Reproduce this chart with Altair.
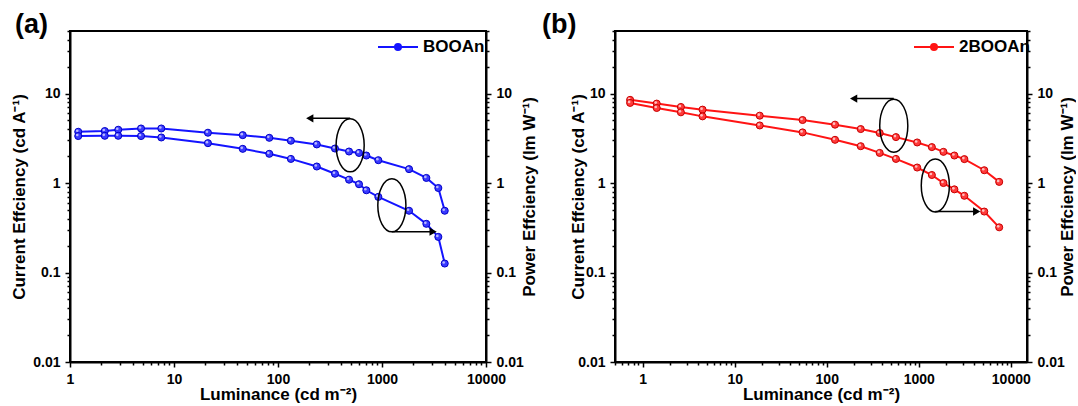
import altair as alt
import pandas as pd

FONT = "Liberation Sans"

# ---------- Panel (a): BOOAn ----------
a_name = "BOOAn"
a_lum = [1.20, 2.16, 2.91, 4.82, 7.55, 21.2, 45.8, 82.5, 133, 236, 353, 482, 601, 707, 922, 1820, 2670, 3480, 4010]
a_ce = [3.74, 3.81, 3.94, 4.07, 4.07, 3.65, 3.43, 3.20, 2.97, 2.70, 2.43, 2.25, 2.17, 2.03, 1.80, 1.43, 1.14, 0.88, 0.49]
a_pe = [3.35, 3.37, 3.37, 3.35, 3.23, 2.79, 2.41, 2.12, 1.86, 1.53, 1.27, 1.09, 0.97, 0.83, 0.70, 0.49, 0.35, 0.25, 0.126]
a_ell_x = [494, 1244]
a_ell_y = [2.64, 0.563]
a_arr_x0 = [494, 1244]
a_arr_x1 = [202, 3100]
a_arr_y = [5.28, 0.286]
a_arr_dir = ["triangle-left", "triangle-right"]

# ---------- Panel (b): 2BOOAn ----------
b_name = "2BOOAn"
b_lum = [0.73, 1.42, 2.60, 4.47, 18.7, 54.6, 123, 234, 376, 565, 961, 1387, 1854, 2438, 3130, 5150, 7480]
b_ce = [8.5, 7.72, 7.08, 6.61, 5.66, 5.06, 4.49, 4.01, 3.62, 3.26, 2.84, 2.52, 2.23, 2.03, 1.85, 1.39, 1.03]
b_pe = [7.86, 6.90, 6.17, 5.56, 4.40, 3.68, 3.04, 2.58, 2.17, 1.86, 1.49, 1.23, 1.00, 0.85, 0.72, 0.48, 0.32]
b_ell_x = [535, 1513]
b_ell_y = [4.37, 0.94]
b_arr_x0 = [535, 1513]
b_arr_x1 = [196, 4260]
b_arr_y = [8.79, 0.48]
b_arr_dir = ["triangle-left", "triangle-right"]

# ---------- axis text ----------
x_title = "Luminance (cd m\u207b\u00b2)"
yl_title = "Current Effciency (cd A\u207b\u00b9)"
yr_title = "Power Effciency (lm W\u207b\u00b9)"
y_domain = [0.01, 50]

H = 331
ELLIPSE = ("M 0.53,0 C 0.53,0.5523 0.2927,1 0,1 C -0.2927,1 -0.53,0.5523 -0.53,0 "
           "C -0.53,-0.5523 -0.2927,-1 0,-1 C 0.2927,-1 0.53,-0.5523 0.53,0 Z")
LEG_PATH = ("M -1,0 L 1,0 M 0.15,0 C 0.15,0.083 0.083,0.15 0,0.15 C -0.083,0.15 -0.15,0.083 -0.15,0 "
            "C -0.15,-0.083 -0.083,-0.15 0,-0.15 C 0.083,-0.15 0.15,-0.083 0.15,0 Z")

MAJOR = "abs(log(datum.value)/LN10 - round(log(datum.value)/LN10)) < 0.001"


def log_ticks(lo, hi):
    out = []
    for e in range(-3, 6):
        for k in range(1, 10):
            v = round(k * 10 ** e, 6)
            if lo - 1e-9 <= v <= hi + 1e-9:
                out.append(v)
    return out


def axis(orient, ticks, title, **kw):
    return alt.Axis(
        orient=orient, values=ticks, title=title,
        labelExpr=f"({MAJOR}) ? format(datum.value, '~g') : ''",
        tickSize={"condition": {"test": MAJOR, "value": 5}, "value": 3},
        labelFont=FONT, labelFontSize=14, labelFontWeight="bold", labelColor="black",
        labelPadding=5, labelFlush=False, labelOverlap=False,
        titleFont=FONT, titleFontSize=17, titleFontWeight="bold", titleColor="black",
        domainColor="black", domainWidth=2, tickColor="black", tickWidth=1.5,
        grid=False, **kw)


def panel(name, lum, ce, pe, line_c, fill_c, edge_c, hi_c, xdom, ell_x, ell_y,
          arr_x0, arr_x1, arr_y, arr_dir, tag, tag_dx, width, leg_x, ylt_x, yrt_x):
    xt = log_ticks(*xdom)
    yt = log_ticks(*y_domain)
    xscale = alt.Scale(type="log", domain=xdom, nice=False)
    yscale = alt.Scale(type="log", domain=y_domain, nice=False)
    xax = axis("bottom", xt, x_title, titleX=width / 2, titleY=37.5,
               titleAlign="center", titleBaseline="alphabetic")
    yl = axis("left", yt, yl_title, titleX=ylt_x, titleY=H / 2, titleAngle=270,
              titleAlign="center", titleBaseline="alphabetic")
    yr = axis("right", yt, yr_title, titleX=yrt_x, titleY=H / 2, titleAngle=270,
              titleAlign="center", titleBaseline="alphabetic")

    def X(f):
        return alt.X(f, type="quantitative", scale=xscale, axis=xax)

    def Y(f, ax=None):
        return alt.Y(f, type="quantitative", scale=yscale, axis=ax)

    leg = alt.Legend(title=None, orient="none", legendX=leg_x, legendY=-5,
                     symbolType=LEG_PATH, symbolSize=1600, symbolStrokeWidth=2,
                     symbolFillColor=line_c, symbolStrokeColor=line_c,
                     labelFont=FONT, labelFontSize=17, labelFontWeight="bold",
                     labelColor="black", labelOffset=4, padding=0)
    col = alt.Color("c:N", scale=alt.Scale(domain=[name], range=[line_c]), legend=leg)

    d_ce = pd.DataFrame({"L": lum, "v": ce, "c": name})
    d_pe = pd.DataFrame({"L": lum, "v": pe, "c": name})

    layers = []
    for d, ax in ((d_ce, yl), (d_pe, yr)):
        b = alt.Chart(d)
        layers.append(b.mark_line(strokeWidth=2).encode(x=X("L"), y=Y("v", ax), color=col))
        layers.append(b.mark_point(filled=True, size=50, fill=fill_c, stroke=edge_c,
                                   strokeWidth=1, opacity=1).encode(x=X("L"), y=Y("v")))
        layers.append(b.mark_point(filled=True, size=7, color=hi_c, opacity=1,
                                   xOffset=-1, yOffset=-1).encode(x=X("L"), y=Y("v")))

    d_ell = pd.DataFrame({"x": ell_x, "y": ell_y})
    layers.append(alt.Chart(d_ell).mark_point(shape=ELLIPSE, size=2809, filled=False,
                                              color="black", strokeWidth=1.5, opacity=1)
                  .encode(x=X("x"), y=Y("y")))
    d_arr = pd.DataFrame({"x0": arr_x0, "x1": arr_x1, "y": arr_y, "s": arr_dir})
    layers.append(alt.Chart(d_arr).mark_rule(color="black", strokeWidth=1.5)
                  .encode(x=X("x0"), x2="x1:Q", y=Y("y")))
    layers.append(alt.Chart(d_arr).mark_point(filled=True, color="black", size=70, opacity=1)
                  .encode(x=X("x1"), y=Y("y"), shape=alt.Shape("s:N", scale=None)))
    layers.append(alt.Chart(pd.DataFrame({"t": [tag]}))
                  .mark_text(font=FONT, fontSize=27, fontWeight="bold", align="center",
                             baseline="alphabetic", color="black")
                  .encode(text="t:N", x=alt.value(tag_dx), y=alt.value(2)))

    return alt.layer(*layers).resolve_scale(y="independent").properties(width=width, height=H)


pa = panel(a_name, a_lum, a_ce, a_pe, "#1414ff", "#3a3aff", "#0000c8", "#b8b8ff", [1, 10000],
           a_ell_x, a_ell_y, a_arr_x0, a_arr_x1, a_arr_y, a_arr_dir, "(a)", -38.5, 416, 307, -46, 48)
pb = panel(b_name, b_lum, b_ce, b_pe, "#ff1414", "#ff3a3a", "#c80000", "#ffc0c0", [0.5, 15000],
           b_ell_x, b_ell_y, b_arr_x0, b_arr_x1, b_arr_y, b_arr_dir, "(b)", -55.7, 412, 298, -32, 45)

chart = (alt.hconcat(pa, pb, spacing=3)
         .resolve_scale(color="independent")
         .configure(padding={"left": 9, "top": 10, "right": 0, "bottom": 0}, background="white")
         .configure_view(stroke="black", strokeWidth=2))

chart.save("out.html", embed_options={"renderer": "svg", "actions": False})
